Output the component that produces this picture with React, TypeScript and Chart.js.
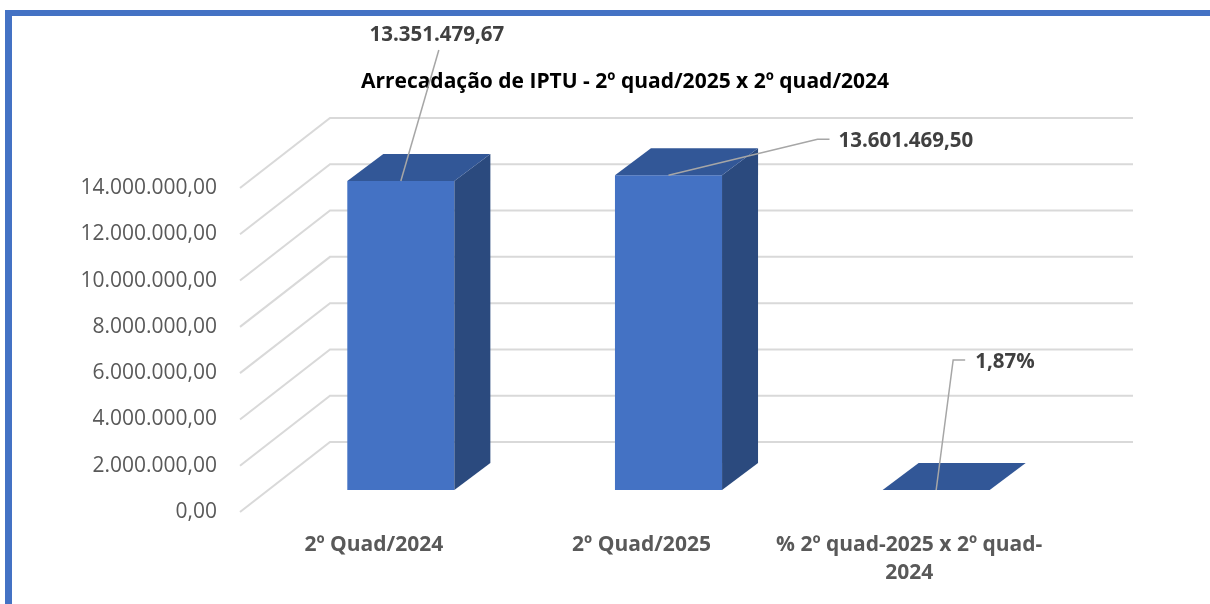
import React, { useEffect, useRef } from "react";
import { Chart, registerables } from "chart.js";

Chart.register(...registerables);

// ---------- data ----------
const chartTitle = "Arrecadação de IPTU - 2º quad/2025 x 2º quad/2024";
const categories: (string | string[])[] = [
  "2º Quad/2024",
  "2º Quad/2025",
  ["% 2º quad-2025 x 2º quad-", "2024"],
];
const values = [13351479.67, 13601469.5, 1.87];
const valueSuffix = ["", "", "%"];
const yMin = 0;
const yMax = 14000000;
const yStep = 2000000;

// ---------- styles / geometry ----------
const W = 1210;
const H = 604;
const FRONT = "#4472C4";
const TOP = "#325797";
const SIDE = "#2B4A7E";
const GRID = "#D9D9D9";
const LEADER = "#A6A6A6";
const WALL_DX = 90;
const WALL_DY = -70;
const BAR_FX = 27;
const BAR_FY = -22;
const BAR_DX = 36;
const BAR_DY = -27;
const SANS = "'Open Sans', 'Noto Sans', 'DejaVu Sans', sans-serif";

// leader line / label offsets relative to each bar's top-front-centre
const LEADERS = [
  { pts: [[38, -131]], text: [36, -140], align: "center" as CanvasTextAlign },
  { pts: [[149, -36], [161, -36]], text: [170, -28], align: "left" as CanvasTextAlign },
  { pts: [[17, -130], [29, -130]], text: [39, -122], align: "left" as CanvasTextAlign },
];

function fmtBR(v: number, decimals = 2): string {
  const fixed = Math.abs(v).toFixed(decimals);
  const [i, d] = fixed.split(".");
  const intS = i.replace(/\B(?=(\d{3})+(?!\d))/g, ".");
  return (v < 0 ? "-" : "") + intS + (d ? "," + d : "");
}

const threeD = {
  id: "threeD",
  beforeDraw(chart: any) {
    const ctx = chart.ctx as CanvasRenderingContext2D;
    ctx.save();
    ctx.fillStyle = "#FFFFFF";
    ctx.fillRect(0, 0, W, H);
    ctx.fillStyle = FRONT;
    ctx.fillRect(5, 10, W - 5, 6);
    ctx.fillRect(5, 10, 7, H - 10);
    ctx.restore();
  },
  beforeDatasetsDraw(chart: any) {
    const ctx = chart.ctx as CanvasRenderingContext2D;
    const { left, right } = chart.chartArea;
    const ys = chart.scales.y;
    ctx.save();
    ctx.strokeStyle = GRID;
    ctx.lineWidth = 2;
    ys.ticks.forEach((t: any) => {
      const py = ys.getPixelForValue(t.value);
      ctx.beginPath();
      ctx.moveTo(left, py);
      ctx.lineTo(left + WALL_DX, py + WALL_DY);
      ctx.lineTo(right + WALL_DX, py + WALL_DY);
      ctx.stroke();
    });
    ctx.restore();
    ctx.save();
    ctx.translate(BAR_FX, BAR_FY);
  },
  afterDatasetsDraw(chart: any) {
    const ctx = chart.ctx as CanvasRenderingContext2D;
    const meta = chart.getDatasetMeta(0);
    meta.data.forEach((el: any) => {
      const { x, y, base, width } = el.getProps(["x", "y", "base", "width"], true);
      const l = x - width / 2;
      const r = x + width / 2;
      // side face
      ctx.fillStyle = SIDE;
      ctx.beginPath();
      ctx.moveTo(r, y);
      ctx.lineTo(r + BAR_DX, y + BAR_DY);
      ctx.lineTo(r + BAR_DX, base + BAR_DY);
      ctx.lineTo(r, base);
      ctx.closePath();
      ctx.fill();
      // top face
      ctx.fillStyle = TOP;
      ctx.beginPath();
      ctx.moveTo(l, y);
      ctx.lineTo(r, y);
      ctx.lineTo(r + BAR_DX, y + BAR_DY);
      ctx.lineTo(l + BAR_DX, y + BAR_DY);
      ctx.closePath();
      ctx.fill();
    });
    ctx.restore();
  },
  afterDraw(chart: any) {
    const ctx = chart.ctx as CanvasRenderingContext2D;
    ctx.save();
    // title
    ctx.fillStyle = "#000000";
    ctx.font = `bold 21px ${SANS}`;
    ctx.textAlign = "center";
    ctx.textBaseline = "alphabetic";
    ctx.fillText(chartTitle, 625, 88);
    // leaders + data labels
    const meta = chart.getDatasetMeta(0);
    meta.data.forEach((el: any, i: number) => {
      const ax = el.x + BAR_FX;
      const ay = el.y + BAR_FY;
      const cfg = LEADERS[i];
      ctx.strokeStyle = LEADER;
      ctx.lineWidth = 1.5;
      ctx.beginPath();
      ctx.moveTo(ax, ay);
      cfg.pts.forEach((p) => ctx.lineTo(ax + p[0], ay + p[1]));
      ctx.stroke();
      ctx.fillStyle = "#404040";
      ctx.font = `bold 20.5px ${SANS}`;
      ctx.textAlign = cfg.align;
      ctx.textBaseline = "alphabetic";
      const txt = fmtBR(values[i]) + valueSuffix[i];
      ctx.fillText(txt, ax + cfg.text[0], ay + cfg.text[1]);
    });
    ctx.restore();
  },
};

export default function App() {
  const ref = useRef<HTMLCanvasElement | null>(null);
  useEffect(() => {
    if (!ref.current) return;
    const chart = new Chart(ref.current, {
      type: "bar",
      data: {
        labels: categories as any,
        datasets: [
          {
            data: values,
            backgroundColor: FRONT,
            borderWidth: 0,
            barPercentage: 0.8,
            categoryPercentage: 0.5,
            clip: false as any,
          },
        ],
      },
      options: {
        responsive: false,
        animation: false,
        devicePixelRatio: 1,
        layout: { padding: { top: 188, right: 167, left: 0, bottom: 0 } },
        plugins: {
          legend: { display: false },
          tooltip: { enabled: false },
          title: { display: false },
        },
        scales: {
          x: {
            grid: { display: false, drawTicks: false },
            border: { display: false },
            ticks: {
              color: "#595959",
              font: { family: SANS, size: 21, weight: "bold", lineHeight: 1.33 },
              padding: 19,
              maxRotation: 0,
              autoSkip: false,
            },
            afterFit: (s: any) => {
              s.height = 92;
            },
          },
          y: {
            min: yMin,
            max: yMax,
            grid: { display: false, drawTicks: false },
            border: { display: false },
            ticks: {
              stepSize: yStep,
              color: "#595959",
              font: { family: SANS, size: 21 },
              padding: 23,
              callback: (v: any) => fmtBR(Number(v)),
            },
            afterFit: (s: any) => {
              s.width = 240;
            },
          },
        },
      },
      plugins: [threeD],
    });
    return () => chart.destroy();
  }, []);
  return (
    <div style={{ position: "absolute", left: 0, top: 0, width: W, height: H }}>
      <canvas ref={ref} width={W} height={H} style={{ width: W, height: H, display: "block" }} />
    </div>
  );
}
